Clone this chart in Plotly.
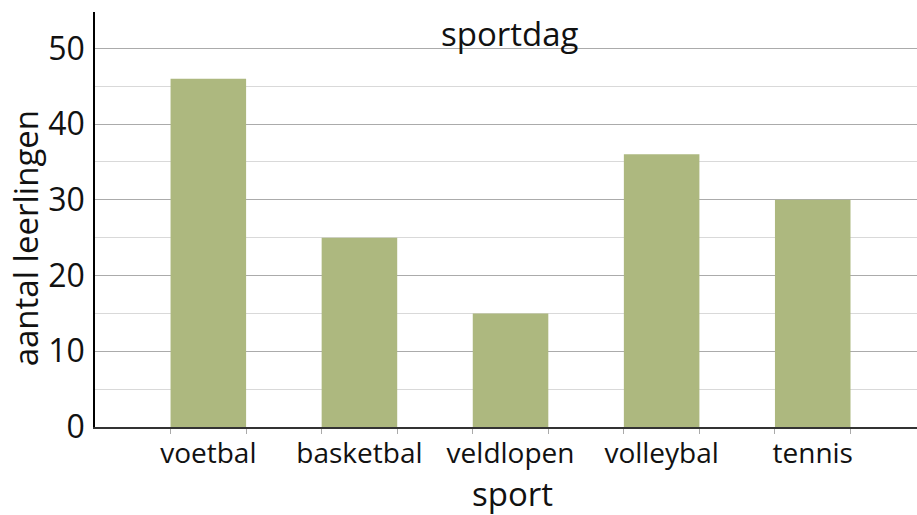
import plotly.graph_objects as go

categories = ["voetbal", "basketbal", "veldlopen", "volleybal", "tennis"]
values = [46, 25, 15, 36, 30]
y_ticks = [0, 10, 20, 30, 40, 50]

title_text = "sportdag"
x_title = "sport"
y_title = "aantal leerlingen"

FONT = "Open Sans"
BAR_W = 0.5

xs = list(range(len(categories)))
edges = []
for i in xs:
    edges += [i - BAR_W / 2, i + BAR_W / 2]

fig = go.Figure(
    go.Bar(x=xs, y=values, width=BAR_W, marker=dict(color="#adb87f", line=dict(width=0)))
)

fig.update_layout(
    width=917,
    height=515,
    margin=dict(l=95, r=0, t=12, b=88),
    paper_bgcolor="white",
    plot_bgcolor="white",
    showlegend=False,
    font=dict(family=FONT, color="#111111"),
    xaxis=dict(
        range=[-0.75, 4.69],
        tickmode="array",
        tickvals=xs,
        ticktext=categories,
        ticks="",
        tickfont=dict(size=28, family=FONT, color="#111111"),
        showgrid=False,
        zeroline=False,
        showline=True,
        linecolor="#333333",
        linewidth=2,
        minor=dict(
            tickmode="array",
            tickvals=edges,
            ticks="outside",
            ticklen=5,
            tickcolor="#aaaaaa",
            tickwidth=1,
            showgrid=False,
        ),
    ),
    yaxis=dict(
        range=[0, 54.8],
        tickmode="array",
        tickvals=y_ticks,
        ticks="",
        tickfont=dict(size=32, family=FONT, color="#111111"),
        ticklabelstandoff=2,
        showgrid=True,
        gridcolor="#ababab",
        gridwidth=1,
        zeroline=False,
        showline=True,
        linecolor="#000000",
        linewidth=1.5,
        minor=dict(dtick=5, showgrid=True, gridcolor="#d9d9d9", gridwidth=1),
    ),
    annotations=[
        dict(text=title_text, xref="paper", yref="paper", x=0.505, y=0.948,
             xanchor="center", yanchor="middle", showarrow=False,
             font=dict(size=33, family=FONT, color="#111111")),
        dict(text=y_title, xref="paper", yref="paper", x=-0.085, y=0.455,
             xanchor="center", yanchor="middle", showarrow=False, textangle=-90,
             font=dict(size=33, family=FONT, color="#111111")),
        dict(text=x_title, xref="paper", yref="paper", x=0.5085, y=-0.16,
             xanchor="center", yanchor="middle", showarrow=False,
             font=dict(size=33, family=FONT, color="#111111")),
    ],
)

fig.write_html(
    "out.html",
    config={"displayModeBar": False},
    post_script="document.body.style.margin='0';document.body.style.overflow='hidden';",
)
